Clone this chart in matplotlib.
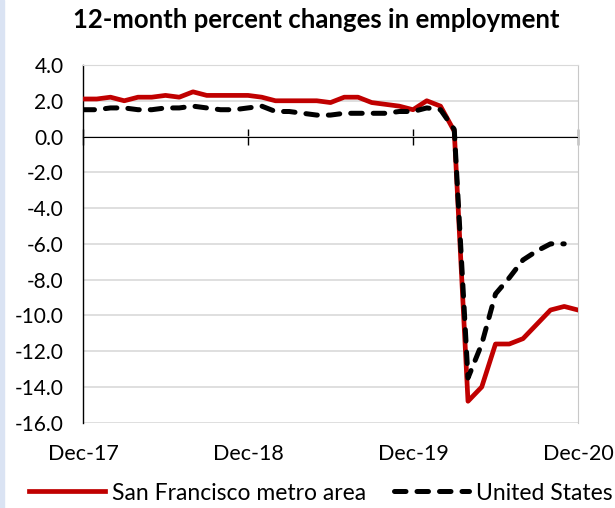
import numpy as np
import matplotlib
matplotlib.use("Agg")
import matplotlib.pyplot as plt
from matplotlib.lines import Line2D
from matplotlib.patches import Rectangle

plt.rcParams['font.family'] = ['Lato', 'DejaVu Sans']

# month index 0 = Dec-17 ... 36 = Dec-20
tick_pos = [0, 12, 24, 36]
tick_labels = ['Dec-17', 'Dec-18', 'Dec-19', 'Dec-20']

sf_values = [2.1, 2.1, 2.2, 2.0, 2.2, 2.2, 2.3, 2.2, 2.5, 2.3, 2.3, 2.3, 2.3,
             2.2, 2.0, 2.0, 2.0, 2.0, 1.9, 2.2, 2.2, 1.9, 1.8, 1.7, 1.5,
             2.0, 1.7, 0.3, -14.8, -14.0, -11.6, -11.6, -11.3, -10.5, -9.7,
             -9.5, -9.7]
us_values = [1.5, 1.5, 1.6, 1.6, 1.5, 1.5, 1.6, 1.6, 1.7, 1.6, 1.5, 1.5, 1.6,
             1.7, 1.4, 1.4, 1.3, 1.2, 1.2, 1.3, 1.3, 1.3, 1.3, 1.4, 1.4,
             1.6, 1.5, 0.4, -13.5, -11.6, -8.8, -7.9, -6.9, -6.4, -6.0, -6.0]

RED = '#C00000'
GRID = '#d9d9d9'

fig = plt.figure(figsize=(6.15, 5.08), dpi=100)
fig.patches.append(Rectangle((0, 0), 4 / 615, 1, transform=fig.transFigure,
                             color='#dae3f3', zorder=0))

ax = fig.add_axes([83 / 615, 1 - 422.7 / 508, 495 / 615, 357.7 / 508])

ax.plot(np.arange(len(sf_values)), sf_values, color=RED, lw=3.4, zorder=3)
ax.plot(np.arange(len(us_values)), us_values, color='black', lw=3.6,
        dashes=(2.3, 2.2), dash_capstyle='round', zorder=4)

ax.set_xlim(0, 36)
ax.set_ylim(-16, 4)
yticks = np.arange(-16, 4.1, 2)
ax.set_yticks(yticks)
ax.set_yticklabels([f'{v:.1f}' for v in yticks], fontsize=15)
ax.tick_params(axis='y', length=0, pad=14)
ax.grid(axis='y', color=GRID, lw=1.2, zorder=0)

ax.spines['bottom'].set_position(('data', 0))
ax.spines['bottom'].set_zorder(2)
ax.spines['left'].set_linewidth(1.0)
ax.spines['top'].set_color(GRID)
ax.spines['right'].set_color('#c8c8c8')
ax.set_xticks(tick_pos)
ax.tick_params(axis='x', direction='inout', length=11, width=1.0,
               labelbottom=False)

sec = ax.secondary_xaxis(0.0)
sec.set_xticks(tick_pos, tick_labels, fontsize=15.5)
sec.tick_params(length=0, pad=15)
sec.spines['bottom'].set_visible(False)

fig.text(0.514, 1 - 20 / 508, '12-month percent changes in employment',
         ha='center', va='center', fontsize=18.5, fontweight='bold')

handles = [Line2D([], [], color=RED, lw=3.4),
           Line2D([], [], color='black', lw=3.6, dashes=(2.3, 2.2),
                  dash_capstyle='round')]
fig.legend(handles, ['San Francisco metro area', 'United States'],
           loc='center', bbox_to_anchor=(0.522, 1 - 493 / 508), ncol=2,
           frameon=False, fontsize=16.5, handlelength=3.3,
           handletextpad=0.3, columnspacing=1.2)

fig.savefig('out.png', dpi=100)
